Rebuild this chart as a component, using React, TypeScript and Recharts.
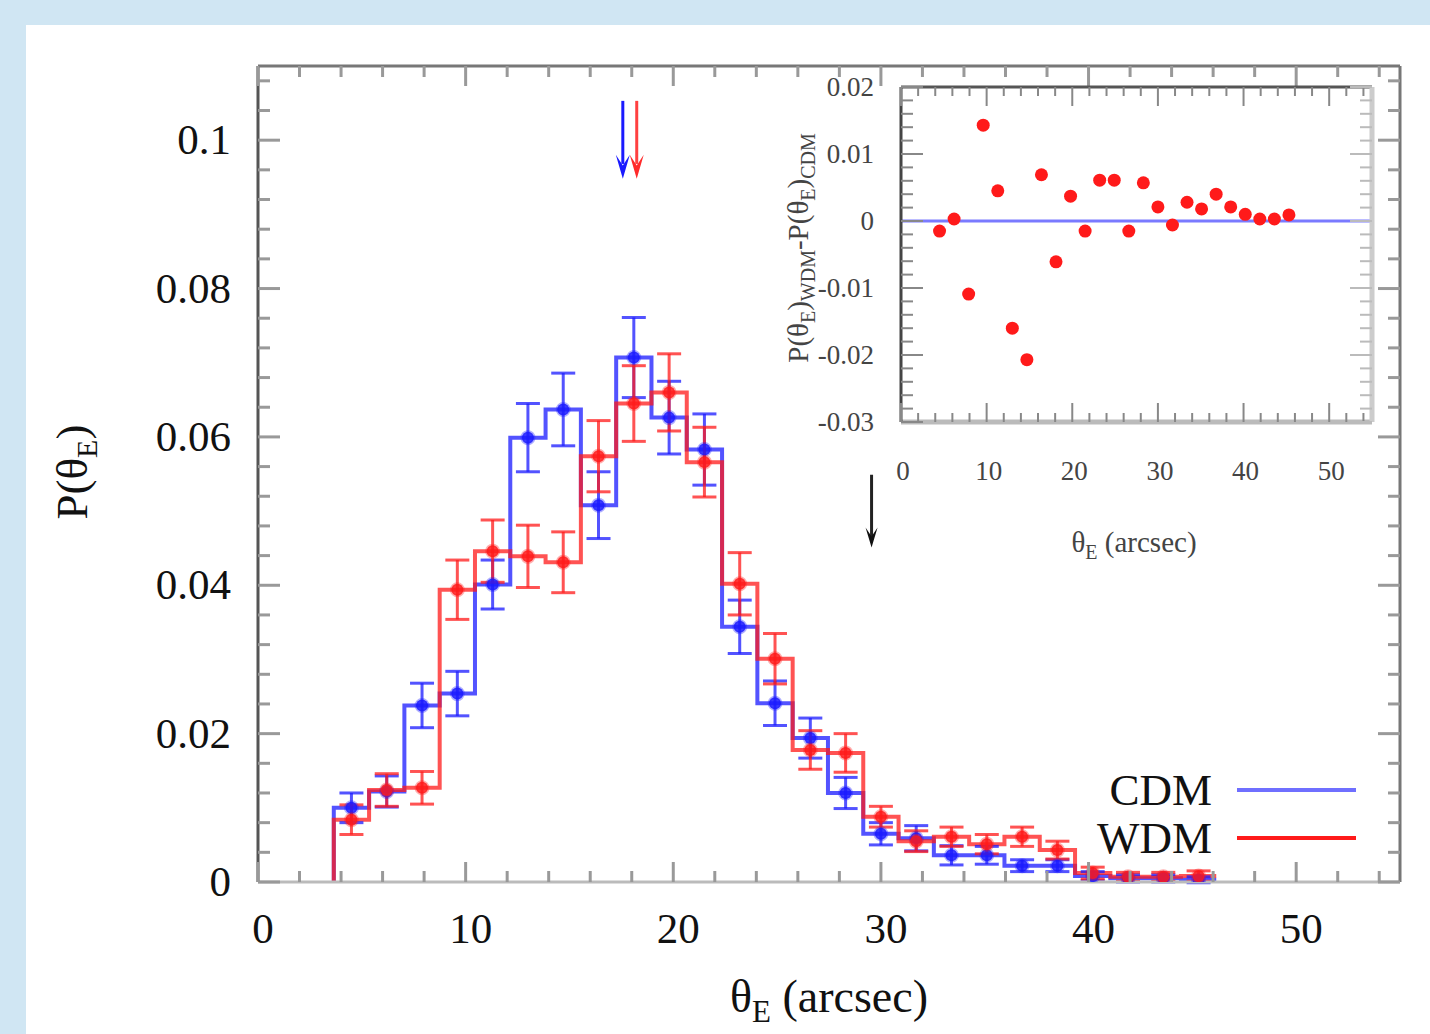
import React from 'react';
import { ComposedChart, Line, Scatter, XAxis, YAxis, ErrorBar, ReferenceLine } from 'recharts';

// bin centres / edges (arcsec)
const binCenters = [4.5, 6.2, 7.9, 9.6, 11.3, 13.0, 14.7, 16.4, 18.1, 19.8, 21.5, 23.2, 24.9, 26.6, 28.3, 30.0, 31.7, 33.4, 35.1, 36.8, 38.5, 40.2, 41.9, 43.6, 45.3];
const binEdges = [3.65, 5.35, 7.05, 8.75, 10.45, 12.15, 13.85, 15.55, 17.25, 18.95, 20.65, 22.35, 24.05, 25.75, 27.45, 29.15, 30.85, 32.55, 34.25, 35.95, 37.65, 39.35, 41.05, 42.75, 44.45, 46.15];

const cdmValues = [0.0100, 0.0122, 0.0238, 0.0254, 0.0401, 0.0599, 0.0637, 0.0508, 0.0707, 0.0626, 0.0583, 0.0344, 0.0241, 0.0194, 0.0120, 0.0065, 0.0059, 0.0036, 0.0036, 0.0022, 0.0022, 0.0008, 0.0005, 0.0005, 0.0003];
const cdmErrors = [0.0020, 0.0021, 0.0030, 0.0030, 0.0033, 0.0046, 0.0049, 0.0045, 0.0054, 0.0049, 0.0048, 0.0036, 0.0030, 0.0027, 0.0021, 0.0015, 0.0017, 0.0013, 0.0012, 0.0008, 0.0008, 0.0006, 0.0005, 0.0005, 0.0004];
const wdmValues = [0.0084, 0.0124, 0.0127, 0.0394, 0.0446, 0.0439, 0.0431, 0.0574, 0.0645, 0.0660, 0.0566, 0.0402, 0.0301, 0.0178, 0.0174, 0.0088, 0.0055, 0.0061, 0.0051, 0.0061, 0.0043, 0.0012, 0.0007, 0.0007, 0.0008];
const wdmErrors = [0.0020, 0.0022, 0.0022, 0.0040, 0.0042, 0.0042, 0.0041, 0.0048, 0.0051, 0.0052, 0.0047, 0.0042, 0.0034, 0.0026, 0.0026, 0.0014, 0.0014, 0.0013, 0.0013, 0.0013, 0.0012, 0.0008, 0.0006, 0.0006, 0.0007];

// inset: P_WDM - P_CDM
const diffValues = [-0.0015, 0.0003, -0.0109, 0.0143, 0.0045, -0.0160, -0.0207, 0.0069, -0.0061, 0.0037, -0.0015, 0.0061, 0.0061, -0.0015, 0.0057, 0.0021, -0.0006, 0.0028, 0.0018, 0.0040, 0.0021, 0.0010, 0.0003, 0.0003, 0.0009];

// mean theta_E arrows
const cdmMean = 17.57;
const wdmMean = 18.24;
const arrowTop = 0.1053;
const arrowTip = 0.0948;
const insetArrowX = 29.55;
const insetArrowTop = 0.0549;
const insetArrowTip = 0.0451;

const xTicks = [0, 2, 4, 6, 8, 10, 12, 14, 16, 18, 20, 22, 24, 26, 28, 30, 32, 34, 36, 38, 40, 42, 44, 46, 48, 50, 52, 54];
const yTicks = [0, 0.004, 0.008, 0.012, 0.016, 0.02, 0.024, 0.028, 0.032, 0.036, 0.04, 0.044, 0.048, 0.052, 0.056, 0.06, 0.064, 0.068, 0.072, 0.076, 0.08, 0.084, 0.088, 0.092, 0.096, 0.1, 0.104, 0.108];
const insetYTicks = [-0.03, -0.028, -0.026, -0.024, -0.022, -0.02, -0.018, -0.016, -0.014, -0.012, -0.01, -0.008, -0.006, -0.004, -0.002, 0, 0.002, 0.004, 0.006, 0.008, 0.01, 0.012, 0.014, 0.016, 0.018, 0.02];

const BLUE = '#1a1aff';
const RED = '#ff1a1a';
const FONT = '"Liberation Serif", "DejaVu Serif", serif';

const cdmStep = binEdges.map((x, i) => ({ x, y: i === 0 ? 0 : cdmValues[i - 1] }));
const wdmStep = binEdges.map((x, i) => ({ x, y: i === 0 ? 0 : wdmValues[i - 1] }));
const cdmPoints = binCenters.map((x, i) => ({ x, y: cdmValues[i], err: cdmErrors[i] }));
const wdmPoints = binCenters.map((x, i) => ({ x, y: wdmValues[i], err: wdmErrors[i] }));
const diffPoints = binCenters.map((x, i) => ({ x, y: diffValues[i] }));

const isMajor = (v: number, step: number) => Math.abs(v / step - Math.round(v / step)) < 1e-6;
const fmt = (v: number) => String(Math.round(v * 1000) / 1000);

const BottomTick = (props: any) => {
  const { x, y, payload } = props;
  const major = isMajor(payload.value, 10);
  return (
    <g>
      <line x1={x} x2={x} y1={y} y2={y - (major ? 20 : 11)} stroke="#999" strokeWidth={3} />
      {major && (
        <text x={x + 5} y={y + 61} textAnchor="middle" fontSize={43} fontFamily={FONT} fill="#111">
          {payload.value}
        </text>
      )}
    </g>
  );
};

const TopTick = (props: any) => {
  const { x, y, payload } = props;
  const major = isMajor(payload.value, 10);
  return <line x1={x} x2={x} y1={y} y2={y + (major ? 20 : 11)} stroke="#999" strokeWidth={3} />;
};

const LeftTick = (props: any) => {
  const { x, y, payload } = props;
  const major = isMajor(payload.value, 0.02);
  return (
    <g>
      <line x1={x} x2={x + (major ? 22 : 12)} y1={y} y2={y} stroke="#999" strokeWidth={3} />
      {major && (
        <text x={x - 27} y={y + 14} textAnchor="end" fontSize={43} fontFamily={FONT} fill="#111">
          {fmt(payload.value)}
        </text>
      )}
    </g>
  );
};

const RightTick = (props: any) => {
  const { x, y, payload } = props;
  const major = isMajor(payload.value, 0.02);
  return <line x1={x} x2={x - (major ? 22 : 12)} y1={y} y2={y} stroke="#999" strokeWidth={3} />;
};

const InsetBottomTick = (props: any) => {
  const { x, y, payload } = props;
  const major = isMajor(payload.value, 10);
  return (
    <g>
      <line x1={x} x2={x} y1={y} y2={y - (major ? 19 : 9)} stroke="#888" strokeWidth={2} />
      {major && (
        <text x={x + 2} y={y + 58} textAnchor="middle" fontSize={27} fontFamily={FONT} fill="#444">
          {payload.value}
        </text>
      )}
    </g>
  );
};

const InsetTopTick = (props: any) => {
  const { x, y, payload } = props;
  const major = isMajor(payload.value, 10);
  return <line x1={x} x2={x} y1={y} y2={y + (major ? 19 : 9)} stroke="#888" strokeWidth={2} />;
};

const InsetLeftTick = (props: any) => {
  const { x, y, payload } = props;
  const major = isMajor(payload.value, 0.01);
  return (
    <g>
      <line x1={x} x2={x + (major ? 22 : 12)} y1={y} y2={y} stroke="#888" strokeWidth={2} />
      {major && (
        <text x={x - 27} y={y + 9} textAnchor="end" fontSize={27} fontFamily={FONT} fill="#444">
          {fmt(payload.value)}
        </text>
      )}
    </g>
  );
};

const InsetRightTick = (props: any) => {
  const { x, y, payload } = props;
  const major = isMajor(payload.value, 0.01);
  return <line x1={x} x2={x - (major ? 22 : 12)} y1={y} y2={y} stroke="#bbb" strokeWidth={2} />;
};

const pointShape = (color: string) => (props: any) => {
  const { cx, cy } = props;
  return (
    <g>
      <circle cx={cx} cy={cy} r={6} fill={color} fillOpacity={0.85} stroke={color} strokeOpacity={0.35} strokeWidth={3} />
    </g>
  );
};

const arrowHead = (color: string, w: number, h: number) => (props: any) => {
  const { cx, cy } = props;
  return <path d={`M${cx - w},${cy - h} L${cx},${cy} L${cx + w},${cy - h} L${cx},${cy - h * 0.55} Z`} fill={color} />;
};

const insetDot = (props: any) => {
  const { cx, cy } = props;
  return <circle cx={cx} cy={cy} r={6.5} fill={RED} />;
};

export default function App() {
  return (
    <div style={{ position: 'absolute', left: 0, top: 0, width: 1430, height: 1034, background: '#d0e6f3', overflow: 'hidden' }}>
      <div style={{ position: 'absolute', left: 26, top: 25, right: 0, bottom: 0, background: '#ffffff' }} />

      <div style={{ position: 'absolute', left: 0, top: 0 }}>
        <ComposedChart width={1430} height={1034} margin={{ top: 60, right: 20, bottom: 92, left: 0 }}>
          <XAxis dataKey="x" type="number" domain={[0, 55]} ticks={xTicks} interval={0} tickSize={0} tickMargin={0}
            height={60} axisLine={{ stroke: '#bbb', strokeWidth: 3 }} tickLine={false} tick={(p: any) => <BottomTick {...p} />} allowDataOverflow />
          <XAxis xAxisId="top" orientation="top" dataKey="x" type="number" domain={[0, 55]} ticks={xTicks} interval={0} tickSize={0} tickMargin={0}
            height={6} axisLine={{ stroke: '#777', strokeWidth: 3 }} tickLine={false} tick={(p: any) => <TopTick {...p} />} allowDataOverflow />
          <YAxis dataKey="y" type="number" domain={[0, 0.11]} ticks={yTicks} interval={0} tickSize={0} tickMargin={0}
            width={258} axisLine={{ stroke: '#555', strokeWidth: 3 }} tickLine={false} tick={(p: any) => <LeftTick {...p} />} allowDataOverflow />
          <YAxis yAxisId="right" orientation="right" dataKey="y" type="number" domain={[0, 0.11]} ticks={yTicks} interval={0} tickSize={0} tickMargin={0}
            width={10} axisLine={{ stroke: '#777', strokeWidth: 3 }} tickLine={false} tick={(p: any) => <RightTick {...p} />} allowDataOverflow />

          <Line data={cdmStep} dataKey="y" type="stepBefore" stroke={BLUE} strokeOpacity={0.75} strokeWidth={4} dot={false} isAnimationActive={false} />
          <Line data={wdmStep} dataKey="y" type="stepBefore" stroke={RED} strokeOpacity={0.75} strokeWidth={4} dot={false} isAnimationActive={false} />

          <Scatter data={cdmPoints} fill={BLUE} shape={pointShape(BLUE)} isAnimationActive={false}>
            <ErrorBar dataKey="err" direction="y" width={12} stroke={BLUE} strokeOpacity={0.75} strokeWidth={3} />
          </Scatter>
          <Scatter data={wdmPoints} fill={RED} shape={pointShape(RED)} isAnimationActive={false}>
            <ErrorBar dataKey="err" direction="y" width={12} stroke={RED} strokeOpacity={0.75} strokeWidth={3} />
          </Scatter>

          <Line data={[{ x: cdmMean, y: arrowTop }, { x: cdmMean, y: arrowTip + 0.002 }]} dataKey="y" stroke={BLUE} strokeWidth={3} dot={false} isAnimationActive={false} />
          <Line data={[{ x: wdmMean, y: arrowTop }, { x: wdmMean, y: arrowTip + 0.002 }]} dataKey="y" stroke="#ff4040" strokeWidth={3} dot={false} isAnimationActive={false} />
          <Scatter data={[{ x: cdmMean, y: arrowTip }]} shape={arrowHead(BLUE, 7, 24)} isAnimationActive={false} />
          <Scatter data={[{ x: wdmMean, y: arrowTip }]} shape={arrowHead('#ff2a2a', 7, 24)} isAnimationActive={false} />

          <Line data={[{ x: insetArrowX, y: insetArrowTop }, { x: insetArrowX, y: insetArrowTip + 0.001 }]} dataKey="y" stroke="#222" strokeWidth={3} dot={false} isAnimationActive={false} />
          <Scatter data={[{ x: insetArrowX, y: insetArrowTip }]} shape={arrowHead('#111', 6, 20)} isAnimationActive={false} />
        </ComposedChart>
      </div>

      {/* inset */}
      <div style={{ position: 'absolute', left: 780, top: 40 }}>
        <ComposedChart width={600} height={520} margin={{ top: 41, right: 4, bottom: 0, left: 0 }}>
          <XAxis dataKey="x" type="number" domain={[0, 55]} ticks={xTicks} interval={0} tickSize={0} tickMargin={0}
            height={138} axisLine={{ stroke: '#bbb', strokeWidth: 5 }} tickLine={false} tick={(p: any) => <InsetBottomTick {...p} />} allowDataOverflow />
          <XAxis xAxisId="top" orientation="top" dataKey="x" type="number" domain={[0, 55]} ticks={xTicks} interval={0} tickSize={0} tickMargin={0}
            height={6} axisLine={{ stroke: '#555', strokeWidth: 3 }} tickLine={false} tick={(p: any) => <InsetTopTick {...p} />} allowDataOverflow />
          <YAxis dataKey="y" type="number" domain={[-0.03, 0.02]} ticks={insetYTicks} interval={0} tickSize={0} tickMargin={0}
            width={121} axisLine={{ stroke: '#444', strokeWidth: 3 }} tickLine={false} tick={(p: any) => <InsetLeftTick {...p} />} allowDataOverflow />
          <YAxis yAxisId="right" orientation="right" dataKey="y" type="number" domain={[-0.03, 0.02]} ticks={insetYTicks} interval={0} tickSize={0} tickMargin={0}
            width={4} axisLine={{ stroke: '#ccc', strokeWidth: 5 }} tickLine={false} tick={(p: any) => <InsetRightTick {...p} />} allowDataOverflow />
          <ReferenceLine y={0} stroke="#7a7aff" strokeWidth={3} />
          <Scatter data={diffPoints} fill={RED} shape={insetDot} isAnimationActive={false} />
        </ComposedChart>
      </div>

      {/* axis titles */}
      <div style={{ position: 'absolute', left: 75, top: 472, transform: 'translate(-50%, -50%) rotate(-90deg)', fontFamily: FONT, fontSize: 45, color: '#111', whiteSpace: 'nowrap' }}>
        P(θ<sub style={{ fontSize: 30 }}>E</sub>)
      </div>
      <div style={{ position: 'absolute', left: 829, top: 1000, transform: 'translate(-50%, -50%)', fontFamily: FONT, fontSize: 46, color: '#111', whiteSpace: 'nowrap' }}>
        θ<sub style={{ fontSize: 31 }}>E</sub> (arcsec)
      </div>

      {/* inset titles */}
      <div style={{ position: 'absolute', left: 801, top: 248, transform: 'translate(-50%, -50%) rotate(-90deg)', fontFamily: FONT, fontSize: 29, color: '#444', whiteSpace: 'nowrap' }}>
        P(θ<sub style={{ fontSize: 20 }}>E</sub>)<sub style={{ fontSize: 20 }}>WDM</sub>-P(θ<sub style={{ fontSize: 20 }}>E</sub>)<sub style={{ fontSize: 20 }}>CDM</sub>
      </div>
      <div style={{ position: 'absolute', left: 1134, top: 545, transform: 'translate(-50%, -50%)', fontFamily: FONT, fontSize: 29, color: '#444', whiteSpace: 'nowrap' }}>
        θ<sub style={{ fontSize: 20 }}>E</sub> (arcsec)
      </div>

      {/* legend */}
      {[
        { name: 'CDM', color: '#6f6fff', top: 790 },
        { name: 'WDM', color: RED, top: 838 },
      ].map((s) => (
        <div key={s.name}>
          <div style={{ position: 'absolute', right: 1430 - 1212, top: s.top, transform: 'translateY(-50%)', fontFamily: FONT, fontSize: 45, color: '#111', lineHeight: 1 }}>
            {s.name}
          </div>
          <div style={{ position: 'absolute', left: 1237, top: s.top - 2, width: 119, height: 4, background: s.color }} />
        </div>
      ))}
    </div>
  );
}
